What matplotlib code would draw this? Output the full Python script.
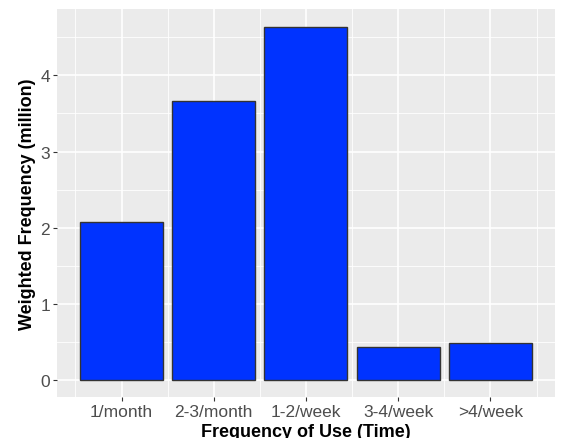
import numpy as np
import matplotlib.pyplot as plt

plt.rcParams['font.family'] = ['Liberation Sans', 'DejaVu Sans']

categories = ['1/month', '2-3/month', '1-2/week', '3-4/week', '>4/week']
weighted_freq = [2.07, 3.66, 4.64, 0.43, 0.485]

fig = plt.figure(figsize=(5.61, 4.39), dpi=100)
ax = fig.add_axes([57 / 561, 1 - 398 / 439, 498 / 561, 388 / 439])

x = np.arange(1, len(categories) + 1)

ax.set_facecolor('#EBEBEB')
# ggplot style grid
for v in np.arange(0.5, 5.0, 1.0):
    ax.axhline(v, color='white', lw=0.6, zorder=0)
for v in range(0, 5):
    ax.axhline(v, color='white', lw=1.2, zorder=0)
for v in np.arange(0.5, 6.0, 1.0):
    ax.axvline(v, color='white', lw=0.6, zorder=0)
for v in x:
    ax.axvline(v, color='white', lw=1.2, zorder=0)

ax.bar(x, weighted_freq, width=0.9, color='#0033FF', edgecolor='#333333',
       linewidth=1.0, zorder=2)

ax.set_xlim(0.3, 5.7)
ax.set_ylim(-0.22, 4.87)
ax.set_xticks(x)
ax.set_xticklabels(categories)
ax.set_yticks([0, 1, 2, 3, 4])

for s in ax.spines.values():
    s.set_visible(False)
ax.tick_params(axis='both', colors='#333333', labelcolor='#4D4D4D',
               labelsize=12.5, length=3, width=0.8, pad=2)

ax.set_xlabel('Frequency of Use (Time)', fontsize=13, fontweight='bold', labelpad=3)
ax.set_ylabel('Weighted Frequency (million)', fontsize=13, fontweight='bold', labelpad=3)

fig.savefig('out.png', dpi=100)
